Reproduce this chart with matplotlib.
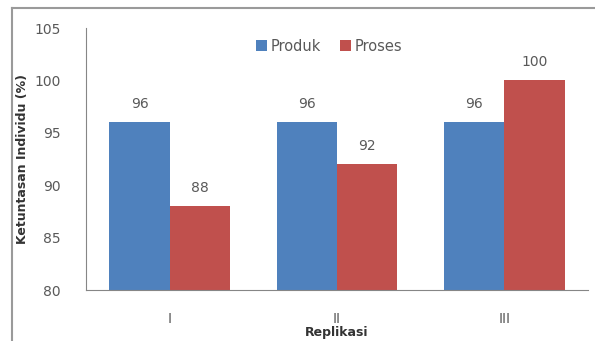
import matplotlib.pyplot as plt
import numpy as np
from matplotlib.lines import Line2D

categories = ["I", "II", "III"]
produk = [96, 96, 96]
proses = [88, 92, 100]
yticks = [80, 85, 90, 95, 100, 105]

blue = "#4F81BD"
red = "#C0504D"
grey_text = "#595959"

fig = plt.figure(figsize=(5.95, 3.41), dpi=100)
ax = fig.add_axes([86 / 595, 1 - 290 / 341, (588 - 86) / 595, (290 - 28) / 341])

x = np.arange(len(categories))
w = 0.36
b1 = ax.bar(x - w / 2, produk, w, color=blue, label="Produk")
b2 = ax.bar(x + w / 2, proses, w, color=red, label="Proses")

for bars, vals in [(b1, produk), (b2, proses)]:
    for rect, v in zip(bars, vals):
        ax.annotate(str(v), (rect.get_x() + rect.get_width() / 2, v),
                    xytext=(0, 8), textcoords="offset points",
                    ha="center", va="bottom", fontsize=10, color=grey_text)

ax.set_ylim(80, 105)
ax.set_xlim(-0.5, 2.5)
ax.set_yticks(yticks)
ax.set_xticks(x)
ax.set_xticklabels(categories)
ax.tick_params(axis="both", length=0, colors=grey_text, labelsize=10)
ax.tick_params(axis="y", pad=18)
ax.tick_params(axis="x", pad=16)

for s in ["top", "right"]:
    ax.spines[s].set_visible(False)
ax.spines["left"].set_color("#868686")
ax.spines["bottom"].set_color("#868686")

ax.set_ylabel("Ketuntasan Individu (%)", fontsize=9, fontweight="bold", color="#333333", labelpad=4)
ax.set_xlabel("Replikasi", fontsize=9, fontweight="bold", color="#333333", labelpad=0)

ax.legend(loc="upper center", bbox_to_anchor=(0.485, 1.01), ncol=2, frameon=False,
          fontsize=10.5, handlelength=0.7, handleheight=0.7, handletextpad=0.3,
          columnspacing=1.3, labelcolor=grey_text)

# outer chart border (left and top edges visible)
fig.add_artist(Line2D([12 / 595, 12 / 595], [0, 1 - 8 / 341], color="#9a9a9a", lw=1.5))
fig.add_artist(Line2D([12 / 595, 1], [1 - 8 / 341, 1 - 8 / 341], color="#9a9a9a", lw=1.5))

fig.savefig("out.png", dpi=100)
